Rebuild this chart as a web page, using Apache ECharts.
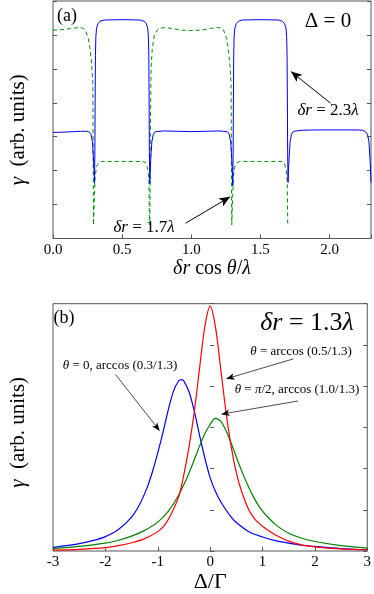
<!DOCTYPE html>
<html>
<head>
<meta charset="utf-8">
<script src="https://cdn.jsdelivr.net/npm/echarts@6/dist/echarts.min.js"></script>
<style>
  html, body { margin: 0; padding: 0; background: #fff; }
  #chart { width: 374px; height: 594px; }
</style>
</head>
<body>
<div id="chart"></div>
<script>
// panel (a): gamma vs dr cos(theta)/lambda
const blueTop = [
  [0, 3.13], [0.05, 3.13], [0.1, 3.14], [0.15, 3.15], [0.2, 3.16], [0.24, 3.16], [0.26, 3.15],
  [0.275, 3.07], [0.285, 2.85], [0.292, 2.4], [0.297, 2.0], [0.3, 1.62], [0.303, 2.6], [0.305, 4.2],
  [0.307, 5.4], [0.31, 5.95], [0.315, 6.2], [0.325, 6.33], [0.34, 6.4], [0.37, 6.44], [0.5, 6.45],
  [0.63, 6.44], [0.66, 6.4], [0.675, 6.33], [0.685, 6.2], [0.69, 5.95], [0.693, 5.4], [0.695, 4.2],
  [0.697, 2.6], [0.7, 1.62], [0.703, 2.0], [0.708, 2.4], [0.715, 2.85], [0.725, 3.07], [0.74, 3.15],
  [0.8, 3.17], [0.9, 3.16], [1.0, 3.15], [1.1, 3.16], [1.2, 3.17], [1.26, 3.15], [1.275, 3.07],
  [1.285, 2.85], [1.292, 2.4], [1.297, 2.0], [1.3, 1.55], [1.303, 2.6], [1.305, 4.2], [1.307, 5.4],
  [1.31, 5.95], [1.315, 6.2], [1.325, 6.33], [1.34, 6.4], [1.37, 6.44], [1.5, 6.45], [1.63, 6.44],
  [1.66, 6.4], [1.675, 6.33], [1.685, 6.2], [1.69, 5.95], [1.693, 5.4], [1.695, 4.2], [1.697, 2.6],
  [1.7, 1.65], [1.703, 2.0], [1.708, 2.4], [1.715, 2.85], [1.725, 3.07], [1.74, 3.16], [1.8, 3.19],
  [1.9, 3.2], [2.0, 3.2], [2.1, 3.2], [2.2, 3.2], [2.24, 3.19], [2.26, 3.15], [2.275, 3.07],
  [2.285, 2.85], [2.292, 2.4], [2.297, 2.0], [2.3, 1.65]
]
const greenTop = [
  [0, 6.14], [0.05, 6.15], [0.1, 6.17], [0.15, 6.2], [0.19, 6.22], [0.215, 6.2], [0.233, 6.15],
  [0.255, 5.9], [0.269, 5.56], [0.28, 5.1], [0.288, 4.59], [0.293, 0.4], [0.297, 0.45], [0.3, 1.3],
  [0.305, 1.82], [0.315, 2.12], [0.33, 2.23], [0.35, 2.27], [0.5, 2.27], [0.65, 2.27], [0.672, 2.23],
  [0.686, 2.03], [0.694, 1.7], [0.698, 0.4], [0.701, 0.6], [0.704, 3.0], [0.709, 5.0], [0.718, 5.6],
  [0.734, 6.02], [0.757, 6.15], [0.78, 6.2], [0.81, 6.22], [0.86, 6.19], [0.93, 6.14], [1.0, 6.13],
  [1.07, 6.14], [1.14, 6.19], [1.19, 6.22], [1.215, 6.2], [1.233, 6.15], [1.255, 5.9], [1.269, 5.56],
  [1.28, 5.1], [1.288, 4.59], [1.293, 0.4], [1.297, 0.45], [1.3, 1.3], [1.305, 1.82], [1.315, 2.12],
  [1.33, 2.23], [1.35, 2.27], [1.5, 2.27], [1.65, 2.27], [1.672, 2.23], [1.686, 2.03], [1.694, 1.7],
  [1.698, 0.4]
]
const topTickLabels = ['0.0', '0.5', '1.0', '1.5', '2.0']

// panel (b): gamma vs Delta/Gamma
const blueBottom = [
  [-3, 0.09], [-2.75, 0.13], [-2.5, 0.18], [-2.25, 0.25], [-2, 0.35], [-1.75, 0.52], [-1.5, 0.82],
  [-1.35, 1.12], [-1.2, 1.55], [-1.1, 1.93], [-1, 2.38], [-0.9, 2.88], [-0.8, 3.42], [-0.7, 3.88],
  [-0.6, 4.13], [-0.55, 4.16], [-0.5, 4.12], [-0.4, 3.85], [-0.3, 3.38], [-0.2, 2.8], [-0.1, 2.25],
  [0, 1.78], [0.1, 1.45], [0.2, 1.2], [0.3, 1.0], [0.4, 0.83], [0.5, 0.69], [0.75, 0.46], [1, 0.34],
  [1.25, 0.25], [1.5, 0.19], [1.75, 0.14], [2, 0.11], [2.5, 0.06], [3, 0.03]
]
const redBottom = [
  [-3, 0.02], [-2.5, 0.04], [-2, 0.08], [-1.75, 0.13], [-1.5, 0.2], [-1.25, 0.3], [-1, 0.47],
  [-0.87, 0.63], [-0.75, 0.88], [-0.6, 1.32], [-0.5, 1.86], [-0.4, 2.55], [-0.3, 3.4], [-0.2, 4.45],
  [-0.1, 5.45], [0, 5.94], [0.1, 5.45], [0.2, 4.45], [0.3, 3.4], [0.4, 2.55], [0.5, 1.9], [0.6, 1.45],
  [0.75, 0.97], [0.87, 0.75], [1, 0.6], [1.12, 0.49], [1.25, 0.39], [1.5, 0.24], [1.75, 0.15],
  [2, 0.1], [2.5, 0.05], [3, 0.03]
]
const greenBottom = [
  [-3, 0.06], [-2.5, 0.11], [-2, 0.19], [-1.75, 0.26], [-1.5, 0.36], [-1.25, 0.5], [-1, 0.7],
  [-0.8, 0.96], [-0.6, 1.36], [-0.4, 1.9], [-0.2, 2.55], [-0.1, 2.85], [0, 3.07], [0.1, 3.22],
  [0.2, 3.15], [0.3, 2.93], [0.4, 2.62], [0.5, 2.28], [0.6, 1.95], [0.7, 1.65], [0.8, 1.38], [0.9, 1.15],
  [1, 0.97], [1.12, 0.8], [1.25, 0.64], [1.5, 0.43], [1.75, 0.31], [2, 0.23], [2.5, 0.13], [3, 0.07]
]

// arrows in data coordinates: [tail, head]
const arrowsTop = [
  [[2.007, 3.99], [1.721, 4.92]],
  [[0.959, 0.45], [1.281, 1.23]]
]
const arrowsBottom = [
  [[-1.806, 4.28], [-0.965, 2.92]],
  [[1.587, 4.66], [0.312, 4.18]],
  [[1.681, 3.64], [0.218, 3.32]]
]

const serif = "'Liberation Serif', 'DejaVu Serif', serif"
const rich = {
  i: { fontFamily: serif, fontStyle: 'italic', color: '#000' },
  r: { fontFamily: serif, color: '#000' }
}
function richSized (size) {
  return {
    i: Object.assign({}, rich.i, { fontSize: size }),
    r: Object.assign({}, rich.r, { fontSize: size })
  }
}

const tickStyle = { inside: true, length: 4, lineStyle: { color: '#555' } }
const labelStyle = { color: '#000', fontFamily: serif, fontSize: 15 }

function sideAxis (gridIndex, position, extra) {
  return Object.assign({
    type: 'value',
    gridIndex: gridIndex,
    position: position,
    axisLine: { show: false },
    axisTick: tickStyle,
    axisLabel: { show: false },
    splitLine: { show: false }
  }, extra)
}

function arrowLine (pairs, size, width) {
  return {
    silent: true,
    animation: false,
    symbol: ['none', 'arrow'],
    symbolSize: size,
    label: { show: false },
    lineStyle: { color: '#000', width: width, type: 'solid' },
    emphasis: { disabled: true },
    data: pairs.map(p => [{ coord: p[0] }, { coord: p[1] }])
  }
}

function text (x, y, str, size) {
  return {
    type: 'text',
    x: x,
    y: y,
    silent: true,
    style: {
      text: str,
      align: 'center',
      verticalAlign: 'middle',
      fontFamily: serif,
      fontSize: size,
      fill: '#000',
      rich: richSized(size)
    }
  }
}

const chart = echarts.init(document.getElementById('chart'))
chart.setOption({
  animation: false,
  backgroundColor: '#fff',
  textStyle: { fontFamily: serif },
  grid: [
    { left: 49, right: 3, top: 1, height: 237.5, show: true, borderColor: '#555', borderWidth: 1 },
    { left: 49, right: 3, top: 303.7, height: 249, show: true, borderColor: '#555', borderWidth: 1 }
  ],
  xAxis: [
    sideAxis(0, 'bottom', {
      min: 0, max: 2.3, interval: 0.5,
      axisLabel: {
        show: true, margin: 4, ...labelStyle,
        formatter: v => topTickLabels[Math.round(v / 0.5)] || ''
      },
      name: '{i|δr} {r|cos} {i|θ}{r|/}{i|λ}',
      nameLocation: 'middle',
      nameGap: 17,
      nameTextStyle: { fontSize: 20, rich: richSized(20) }
    }),
    sideAxis(1, 'bottom', {
      min: -3, max: 3, interval: 1,
      axisLabel: { show: true, margin: 4, ...labelStyle },
      name: '{r|Δ/Γ}',
      nameLocation: 'middle',
      nameGap: 20,
      nameTextStyle: { fontSize: 22, rich: richSized(22) }
    })
  ],
  yAxis: [
    sideAxis(0, 'left', {
      min: 0, max: 7, interval: 1,
      name: '{i|γ}  {r|(arb. units)}',
      nameLocation: 'middle',
      nameGap: 24,
      nameTextStyle: { fontSize: 21, rich: richSized(21), padding: [0, 20, 0, 0] }
    }),
    sideAxis(0, 'right', { min: 0, max: 7, interval: 1 }),
    sideAxis(1, 'left', {
      min: 0, max: 6, interval: 1,
      name: '{i|γ}  {r|(arb. units)}',
      nameLocation: 'middle',
      nameGap: 24,
      nameTextStyle: { fontSize: 21, rich: richSized(21), padding: [0, 10, 0, 0] }
    }),
    sideAxis(1, 'right', { min: 0, max: 6, interval: 1 })
  ],
  series: [
    {
      type: 'line', xAxisIndex: 0, yAxisIndex: 0, data: greenTop,
      showSymbol: false, silent: true,
      lineStyle: { color: '#009000', width: 1, type: [4, 3] }
    },
    {
      type: 'line', xAxisIndex: 0, yAxisIndex: 0, data: blueTop,
      showSymbol: false, silent: true,
      lineStyle: { color: '#0000ff', width: 1 },
      markLine: arrowLine(arrowsTop, [7, 11], 1)
    },
    {
      type: 'line', xAxisIndex: 1, yAxisIndex: 2, data: blueBottom,
      showSymbol: false, silent: true, smooth: 0.3,
      lineStyle: { color: '#0000ff', width: 1.2 },
      markLine: arrowLine(arrowsBottom, [5, 8], 0.7)
    },
    {
      type: 'line', xAxisIndex: 1, yAxisIndex: 2, data: greenBottom,
      showSymbol: false, silent: true, smooth: 0.3,
      lineStyle: { color: '#008000', width: 1.2 }
    },
    {
      type: 'line', xAxisIndex: 1, yAxisIndex: 2, data: redBottom,
      showSymbol: false, silent: true, smooth: 0.3,
      lineStyle: { color: '#ff0000', width: 1.2 }
    }
  ],
  graphic: [
    text(67, 16, '{r|(a)}', 18),
    text(328, 21, '{r|Δ = 0}', 21),
    text(328, 111, '{i|δr} {r|= 2.3}{i|λ}', 17),
    text(144, 228, '{i|δr} {r|= 1.7}{i|λ}', 17),
    text(64, 318, '{r|(b)}', 18),
    text(307, 323, '{i|δr} {r|= 1.3}{i|λ}', 26),
    text(301, 352, '{i|θ} {r|= arccos (0.5/1.3)}', 13),
    text(120, 366, '{i|θ} {r|= 0, arccos (0.3/1.3)}', 13),
    text(297, 390, '{i|θ} {r|=} {i|π}{r|/2, arccos (1.0/1.3)}', 13)
  ]
})
</script>
</body>
</html>
